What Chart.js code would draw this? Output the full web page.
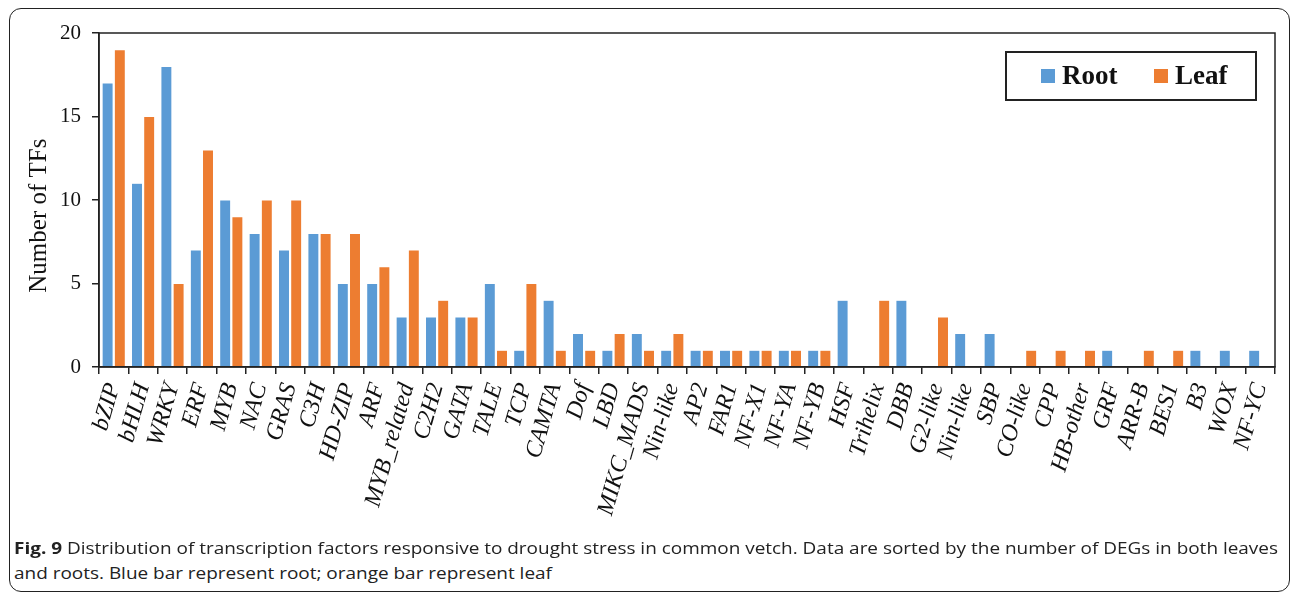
<!DOCTYPE html>
<html><head><meta charset="utf-8">
<script src="https://cdn.jsdelivr.net/npm/chart.js@4/dist/chart.umd.min.js"></script>
<style>
html,body{margin:0;padding:0;background:#fff;}
body{width:1292px;height:595px;overflow:hidden;position:relative;}
#frame{position:absolute;left:9px;top:8px;width:1281px;height:584px;border:1.5px solid #222;border-radius:12px;box-sizing:border-box;}
#wrap{position:absolute;left:0;top:0;width:1292px;height:540px;}
.cap{position:absolute;left:14px;font-family:"Open Sans";font-size:16px;color:#222;white-space:nowrap;transform-origin:0 50%;line-height:20px;}
.cap b{font-weight:700;}
</style></head>
<body>
<div id="frame"></div>
<div id="wrap"><canvas id="c" width="1292" height="540"></canvas></div>
<div class="cap" id="cap1" style="top:538px"><b>Fig. 9</b> Distribution of transcription factors responsive to drought stress in common vetch. Data are sorted by the number of DEGs in both leaves</div>
<div class="cap" id="cap2" style="top:563px">and roots. Blue bar represent root; orange bar represent leaf</div>
<script>
const categories = ["bZIP","bHLH","WRKY","ERF","MYB","NAC","GRAS","C3H","HD-ZIP","ARF","MYB_related","C2H2","GATA","TALE","TCP","CAMTA","Dof","LBD","MIKC_MADS","Nin-like","AP2","FAR1","NF-X1","NF-YA","NF-YB","HSF","Trihelix","DBB","G2-like","Nin-like","SBP","CO-like","CPP","HB-other","GRF","ARR-B","BES1","B3","WOX","NF-YC"];
const rootValues = [17,11,18,7,10,8,7,8,5,5,3,3,3,5,1,4,2,1,2,1,1,1,1,1,1,4,0,4,0,2,2,0,0,0,1,0,0,1,1,1];
const leafValues = [19,15,5,13,9,10,10,8,8,6,7,4,3,1,5,1,1,2,1,2,1,1,1,1,1,0,4,0,3,0,0,1,1,1,0,1,1,0,0,0];
const yTickValues = [0,5,10,15,20];
const seriesNames = ["Root","Leaf"];
const seriesColors = ["#5B9BD5","#ED7D31"];

const SERIF = '"Liberation Serif", "Times New Roman", serif';
const AXIS = '#222';

const frameBox = {
  id:'frameBox',
  afterDraw(chart){
    const {ctx, chartArea:a} = chart;
    ctx.save();
    ctx.strokeStyle = AXIS; ctx.lineWidth = 1.5;
    ctx.strokeRect(a.left, a.top, a.right - a.left, a.bottom - a.top);
    ctx.restore();
  }
};

const boxLegend = {
  id:'boxLegend',
  afterDraw(chart){
    const {ctx, chartArea:a} = chart;
    const w = 250, h = 48;
    const x0 = a.right - 19 - w, y0 = a.top + 19;
    ctx.save();
    ctx.fillStyle = '#fff';
    ctx.fillRect(x0, y0, w, h);
    ctx.strokeStyle = '#222'; ctx.lineWidth = 2;
    ctx.strokeRect(x0, y0, w, h);
    ctx.font = 'bold 27px ' + SERIF;
    ctx.textBaseline = 'middle';
    let x = x0 + 35;
    chart.data.datasets.forEach((ds, i) => {
      ctx.fillStyle = ds.backgroundColor;
      ctx.fillRect(x, y0 + 17, 14, 14);
      ctx.fillStyle = '#111';
      ctx.fillText(ds.label, x + 21, y0 + 25);
      x += 113;
    });
    ctx.restore();
  }
};

new Chart(document.getElementById('c'), {
  type:'bar',
  data:{
    labels:categories,
    datasets:[
      {label:seriesNames[0], data:rootValues, backgroundColor:seriesColors[0], borderColor:'rgba(255,255,255,0.6)', borderWidth:0.5, categoryPercentage:0.83, barPercentage:0.9},
      {label:seriesNames[1], data:leafValues, backgroundColor:seriesColors[1], borderColor:'rgba(255,255,255,0.6)', borderWidth:0.5, categoryPercentage:0.83, barPercentage:0.9}
    ]
  },
  options:{
    responsive:false, animation:false,
    layout:{padding:{left:0, top:33, right:17, bottom:0}},
    plugins:{legend:{display:false}, tooltip:{enabled:false}},
    scales:{
      x:{
        grid:{offset:true, drawOnChartArea:false, tickLength:7, color:AXIS, lineWidth:1.5},
        border:{color:AXIS, width:1.5},
        ticks:{autoSkip:false, minRotation:74, maxRotation:74, padding:6, color:'#111', font:{family:SERIF, size:24, style:'italic'}},
        afterFit(s){ s.height = 173; s.paddingLeft = 0; s.paddingRight = 0; }
      },
      y:{
        min:0, max:20,
        afterBuildTicks(s){ s.ticks = yTickValues.map(v => ({value:v})); },
        grid:{drawOnChartArea:false, tickLength:7, color:AXIS, lineWidth:1.5},
        border:{color:AXIS, width:1.5},
        ticks:{padding:11, color:'#111', font:{family:SERIF, size:21}},
        title:{display:true, text:'Number of TFs     ', color:'#111', font:{family:SERIF, size:25}, padding:{top:24,bottom:0}},
        afterFit(s){ s.width = 99; s.paddingTop = 0; s.paddingBottom = 0; }
      }
    }
  },
  plugins:[frameBox, boxLegend]
});

(function(){
  const c1 = document.getElementById('cap1'), c2 = document.getElementById('cap2');
  const w = c1.getBoundingClientRect().width;
  const k = 1264 / w;
  c1.style.transform = 'scaleX(' + k + ')';
  c2.style.transform = 'scaleX(' + k + ')';
})();
</script>
</body></html>
